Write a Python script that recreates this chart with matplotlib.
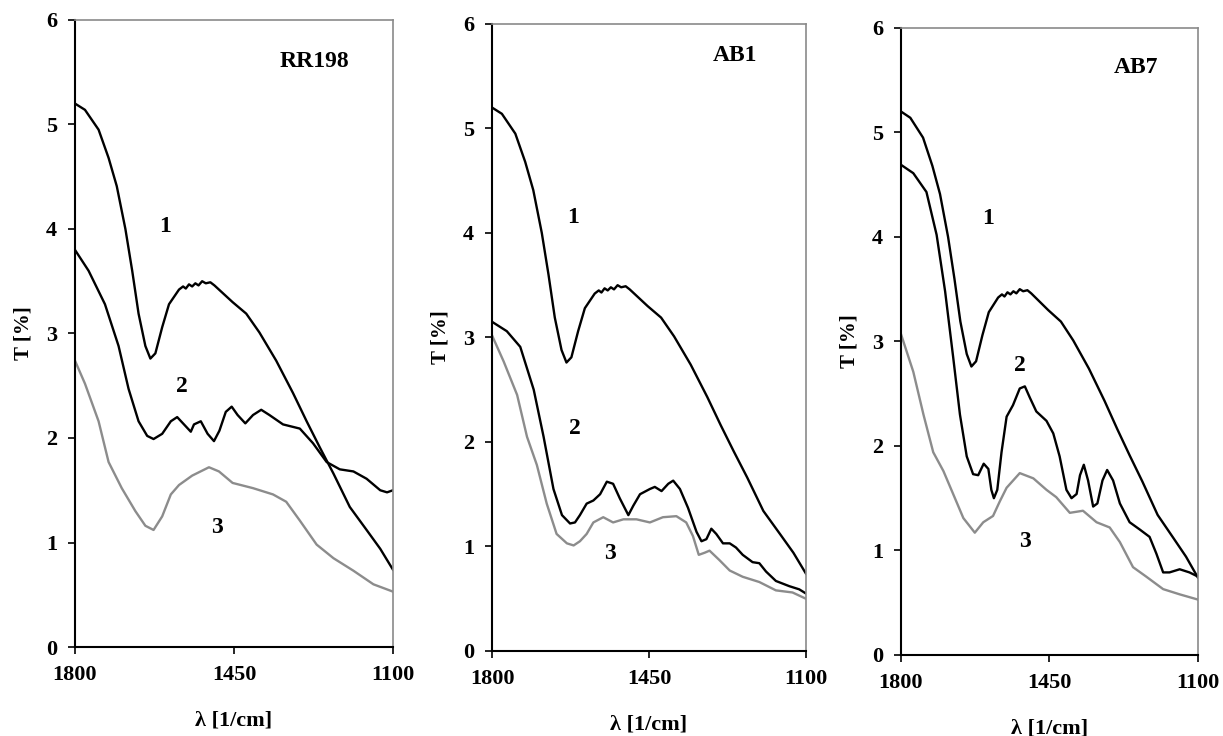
import matplotlib
matplotlib.use("Agg")
import matplotlib.pyplot as plt

plt.rcParams['font.family'] = ['Liberation Serif', 'DejaVu Serif']
plt.rcParams['font.weight'] = 'bold'

# curve 1 (same control in every panel)
wn_1 = [1800, 1778, 1748, 1726, 1708, 1689, 1674, 1660, 1645, 1634, 1623, 1608,
        1593, 1571, 1562, 1556, 1549, 1542, 1535, 1528, 1520, 1512, 1502, 1493,
        1483, 1453, 1423, 1394, 1357, 1320, 1290, 1261, 1231, 1195, 1158, 1128, 1100]
t_1 = [5.20, 5.14, 4.95, 4.68, 4.41, 4.00, 3.60, 3.19, 2.88, 2.76, 2.81, 3.06,
       3.28, 3.42, 3.45, 3.43, 3.47, 3.45, 3.48, 3.46, 3.50, 3.48, 3.49, 3.46,
       3.42, 3.30, 3.19, 3.01, 2.74, 2.43, 2.16, 1.91, 1.66, 1.34, 1.12, 0.94, 0.74]

# RR198
rr_wn_2 = [1800, 1770, 1734, 1704, 1682, 1660, 1641, 1627, 1608, 1589, 1575, 1560,
           1545, 1538, 1523, 1508, 1494, 1482, 1468, 1455, 1442, 1425, 1408, 1390,
           1372, 1342, 1305, 1276, 1246, 1217, 1187, 1158, 1128, 1113, 1100]
rr_t_2 = [3.80, 3.60, 3.28, 2.88, 2.47, 2.16, 2.02, 1.99, 2.04, 2.16, 2.20, 2.13,
          2.06, 2.13, 2.16, 2.04, 1.97, 2.07, 2.25, 2.30, 2.22, 2.14, 2.22, 2.27,
          2.22, 2.13, 2.09, 1.95, 1.77, 1.70, 1.68, 1.61, 1.50, 1.48, 1.50]
rr_wn_3 = [1800, 1778, 1748, 1726, 1697, 1667, 1645, 1627, 1608, 1589, 1571, 1542,
           1505, 1483, 1453, 1408, 1364, 1335, 1305, 1268, 1231, 1187, 1143, 1100]
rr_t_3 = [2.74, 2.52, 2.16, 1.77, 1.52, 1.30, 1.16, 1.12, 1.25, 1.46, 1.55, 1.64,
          1.72, 1.68, 1.57, 1.52, 1.46, 1.39, 1.21, 0.98, 0.85, 0.73, 0.60, 0.53]

# AB1
ab1_wn_2 = [1800, 1767, 1737, 1707, 1685, 1663, 1644, 1626, 1615, 1604, 1589, 1574,
            1559, 1544, 1530, 1515, 1496, 1485, 1470, 1448, 1437, 1422, 1407, 1396,
            1381, 1363, 1344, 1333, 1322, 1311, 1300, 1285, 1270, 1256, 1241, 1219,
            1204, 1189, 1167, 1137, 1115, 1100]
ab1_t_2 = [3.15, 3.06, 2.91, 2.50, 2.05, 1.55, 1.30, 1.22, 1.23, 1.30, 1.41, 1.44,
           1.50, 1.62, 1.60, 1.46, 1.30, 1.39, 1.50, 1.55, 1.57, 1.53, 1.60, 1.63,
           1.55, 1.37, 1.14, 1.05, 1.07, 1.17, 1.12, 1.03, 1.03, 0.99, 0.92, 0.85,
           0.84, 0.76, 0.67, 0.62, 0.59, 0.55]
ab1_wn_3 = [1800, 1774, 1744, 1722, 1700, 1678, 1656, 1633, 1618, 1604, 1589, 1574,
            1552, 1530, 1507, 1478, 1448, 1419, 1389, 1367, 1352, 1339, 1326, 1315,
            1293, 1270, 1241, 1204, 1167, 1130, 1100]
ab1_t_3 = [3.02, 2.77, 2.45, 2.05, 1.78, 1.41, 1.12, 1.03, 1.01, 1.05, 1.12, 1.23,
           1.28, 1.23, 1.26, 1.26, 1.23, 1.28, 1.29, 1.23, 1.10, 0.92, 0.94, 0.96,
           0.87, 0.77, 0.71, 0.66, 0.58, 0.56, 0.50]

# AB7
ab7_wn_2 = [1800, 1771, 1740, 1716, 1696, 1677, 1661, 1645, 1630, 1618, 1605, 1594,
            1587, 1581, 1573, 1563, 1551, 1536, 1520, 1508, 1496, 1481, 1457, 1441,
            1426, 1410, 1398, 1386, 1378, 1369, 1359, 1347, 1337, 1325, 1314, 1300,
            1284, 1261, 1237, 1214, 1198, 1182, 1167, 1143, 1120, 1100]
ab7_t_2 = [4.69, 4.61, 4.43, 4.02, 3.48, 2.85, 2.30, 1.90, 1.73, 1.72, 1.83, 1.78,
           1.58, 1.50, 1.58, 1.94, 2.28, 2.39, 2.55, 2.57, 2.46, 2.33, 2.24, 2.12,
           1.90, 1.58, 1.50, 1.54, 1.72, 1.82, 1.67, 1.42, 1.45, 1.67, 1.77, 1.67,
           1.45, 1.27, 1.20, 1.13, 0.97, 0.79, 0.79, 0.82, 0.79, 0.75]
ab7_wn_3 = [1800, 1771, 1747, 1724, 1700, 1677, 1653, 1626, 1606, 1583, 1567, 1551,
            1520, 1488, 1457, 1434, 1402, 1371, 1339, 1308, 1284, 1253, 1222, 1182,
            1143, 1100]
ab7_t_3 = [3.07, 2.71, 2.30, 1.94, 1.76, 1.54, 1.31, 1.17, 1.27, 1.33, 1.47, 1.60,
           1.74, 1.69, 1.58, 1.51, 1.36, 1.38, 1.27, 1.22, 1.08, 0.84, 0.75, 0.63,
           0.58, 0.53]

names = ['RR198', 'AB1', 'AB7']
curves_2 = [(rr_wn_2, rr_t_2), (ab1_wn_2, ab1_t_2), (ab7_wn_2, ab7_t_2)]
curves_3 = [(rr_wn_3, rr_t_3), (ab1_wn_3, ab1_t_3), (ab7_wn_3, ab7_t_3)]
# positions of curve numbers "1", "2", "3" and of the dye name
label_pos = [[(1602, 4.02), (1565, 2.49), (1488, 1.14)],
             [(1619, 4.15), (1615, 2.13), (1537, 0.93)],
             [(1594, 4.18), (1520, 2.77), (1508, 1.09)]]
name_pos = [(1272, 5.6), (1259, 5.7), (1247, 5.62)]

axes_rect = [[0.0613, 0.1209, 0.2600, 0.8520],
             [0.4023, 0.1155, 0.2567, 0.8520],
             [0.7367, 0.1101, 0.2428, 0.8520]]

fig = plt.figure(figsize=(12.23, 7.36), dpi=100)
for i in range(3):
    ax = fig.add_axes(axes_rect[i])
    ax.plot(wn_1, t_1, color='black', lw=1.7)
    ax.plot(*curves_2[i], color='black', lw=1.7)
    ax.plot(*curves_3[i], color='#8c8c8c', lw=1.7)
    ax.set_xlim(1800, 1100)
    ax.set_ylim(0, 6)
    ax.set_xticks([1800, 1450, 1100])
    ax.set_yticks(range(7))
    ax.tick_params(direction='out', length=5, width=1.2, labelsize=16, pad=8)
    for lab in ax.get_xticklabels() + ax.get_yticklabels():
        lab.set_fontweight('bold')
    for s in ['left', 'bottom']:
        ax.spines[s].set_linewidth(1.5)
        ax.spines[s].set_color('black')
    for s in ['top', 'right']:
        ax.spines[s].set_linewidth(1.2)
        ax.spines[s].set_color('#8a8a8a')
    for k, (x, y) in enumerate(label_pos[i]):
        ax.text(x, y, str(k + 1), fontsize=17, fontweight='bold', ha='center', va='center')
    ax.text(name_pos[i][0], name_pos[i][1], names[i], fontsize=17, fontweight='bold',
            ha='center', va='center')
    ax.set_ylabel('T [%]', fontsize=15, fontweight='bold', labelpad=9)
    ax.set_xlabel('λ [1/cm]', fontsize=16, fontweight='bold', labelpad=18)

fig.savefig('out.png', dpi=100)
